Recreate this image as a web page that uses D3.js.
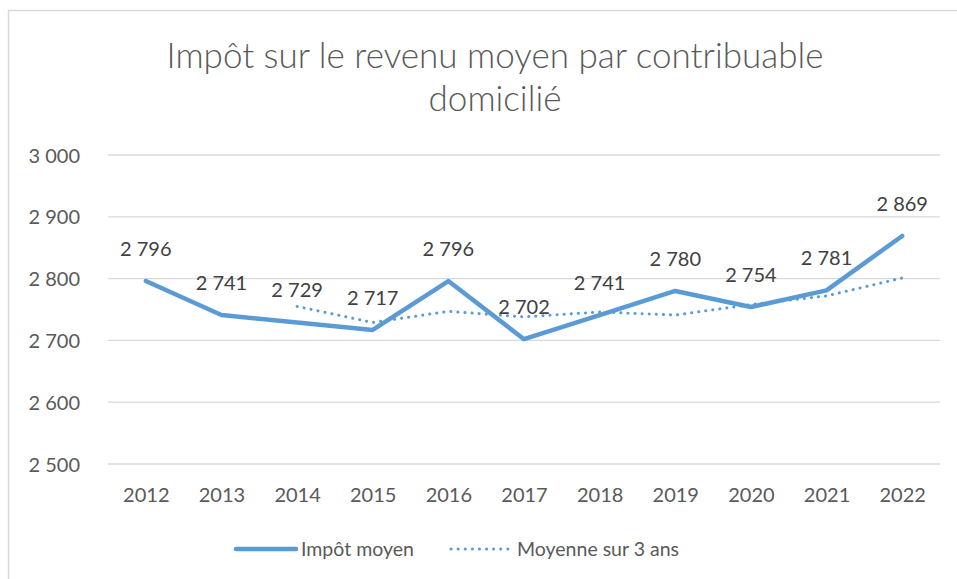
<!DOCTYPE html>
<meta charset="utf-8">
<style>
    body { margin: 0; background: #fff; }
    svg { font-family: Lato, "Open Sans", sans-serif; }
    .grid line { stroke: #d9d9d9; stroke-width: 1.3px; }
    .axis text { fill: #595959; font-size: 20px; font-family: Lato, sans-serif; }
</style>
<svg width="957" height="579"></svg>
<script src="https://d3js.org/d3.v7.min.js"></script>
<script>
    var years = ["2012", "2013", "2014", "2015", "2016", "2017", "2018", "2019", "2020", "2021", "2022"];
    var impotMoyen = [2796, 2741, 2729, 2717, 2796, 2702, 2741, 2780, 2754, 2781, 2869];
    var moyenne3ans = [null, null, 2755, 2729, 2747, 2738, 2746, 2741, 2758, 2772, 2801];
    var yTicks = [2500, 2600, 2700, 2800, 2900, 3000];

    var svg = d3.select("svg");
    var blue = "#5b9bd5";
    var fmt = function (v) { return d3.format(",")(v).replace(",", " "); };

    // cadre du graphique
    svg.append("rect")
        .attr("x", 8.5).attr("y", 10.5)
        .attr("width", 960).attr("height", 580)
        .attr("fill", "none").attr("stroke", "#d9d9d9").attr("stroke-width", 1.5);

    svg.append("text")
        .attr("x", 495).attr("y", 68)
        .attr("text-anchor", "middle")
        .attr("font-size", 35).attr("font-weight", 300).attr("fill", "#595959")
        .text("Impôt sur le revenu moyen par contribuable");
    svg.append("text")
        .attr("x", 495).attr("y", 111)
        .attr("text-anchor", "middle")
        .attr("font-size", 35).attr("font-weight", 300).attr("fill", "#595959")
        .text("domicilié");

    var x = d3.scalePoint().domain(years).range([108, 940]).padding(0.5);
    var y = d3.scaleLinear().domain([2500, 3000]).range([464, 155]);

    svg.append("g").attr("class", "grid")
        .selectAll("line").data(yTicks).enter().append("line")
        .attr("x1", 108).attr("x2", 940)
        .attr("y1", function (d) { return y(d); })
        .attr("y2", function (d) { return y(d); });

    var yAxis = svg.append("g").attr("class", "axis")
        .attr("transform", "translate(80,0)")
        .call(d3.axisLeft(y).tickValues(yTicks).tickFormat(fmt).tickSize(0).tickPadding(0));
    yAxis.select(".domain").remove();
    yAxis.selectAll("text").attr("dy", "0.35em");

    var xAxis = svg.append("g").attr("class", "axis")
        .attr("transform", "translate(0,495)")
        .call(d3.axisBottom(x).tickSize(0).tickPadding(0));
    xAxis.select(".domain").remove();
    xAxis.selectAll("text").attr("dy", "0.35em");

    var line = d3.line()
        .defined(function (d) { return d != null; })
        .x(function (d, i) { return x(years[i]); })
        .y(function (d) { return y(d); });

    svg.append("path").datum(moyenne3ans)
        .attr("fill", "none").attr("stroke", blue)
        .attr("stroke-width", 3).attr("stroke-linecap", "round")
        .attr("stroke-dasharray", "0.1 7")
        .attr("d", line);

    svg.append("path").datum(impotMoyen)
        .attr("fill", "none").attr("stroke", blue)
        .attr("stroke-width", 4.5).attr("stroke-linejoin", "round").attr("stroke-linecap", "round")
        .attr("d", line);

    svg.append("g").selectAll("text").data(impotMoyen).enter().append("text")
        .attr("x", function (d, i) { return x(years[i]); })
        .attr("y", function (d) { return y(d) - 25; })
        .attr("text-anchor", "middle")
        .attr("font-size", 20).attr("fill", "#404040")
        .text(fmt);

    // légende
    var lg = svg.append("g");
    lg.append("line").attr("x1", 236).attr("x2", 296).attr("y1", 549).attr("y2", 549)
        .attr("stroke", blue).attr("stroke-width", 4.5).attr("stroke-linecap", "round");
    lg.append("text").attr("x", 301).attr("y", 549).attr("dy", "0.35em")
        .attr("font-size", 19.5).attr("fill", "#595959").text("Impôt moyen");
    lg.append("line").attr("x1", 451).attr("x2", 510).attr("y1", 549).attr("y2", 549)
        .attr("stroke", blue).attr("stroke-width", 3).attr("stroke-linecap", "round")
        .attr("stroke-dasharray", "0.1 7");
    lg.append("text").attr("x", 517).attr("y", 549).attr("dy", "0.35em")
        .attr("font-size", 19.5).attr("fill", "#595959").text("Moyenne sur 3 ans");
</script>
